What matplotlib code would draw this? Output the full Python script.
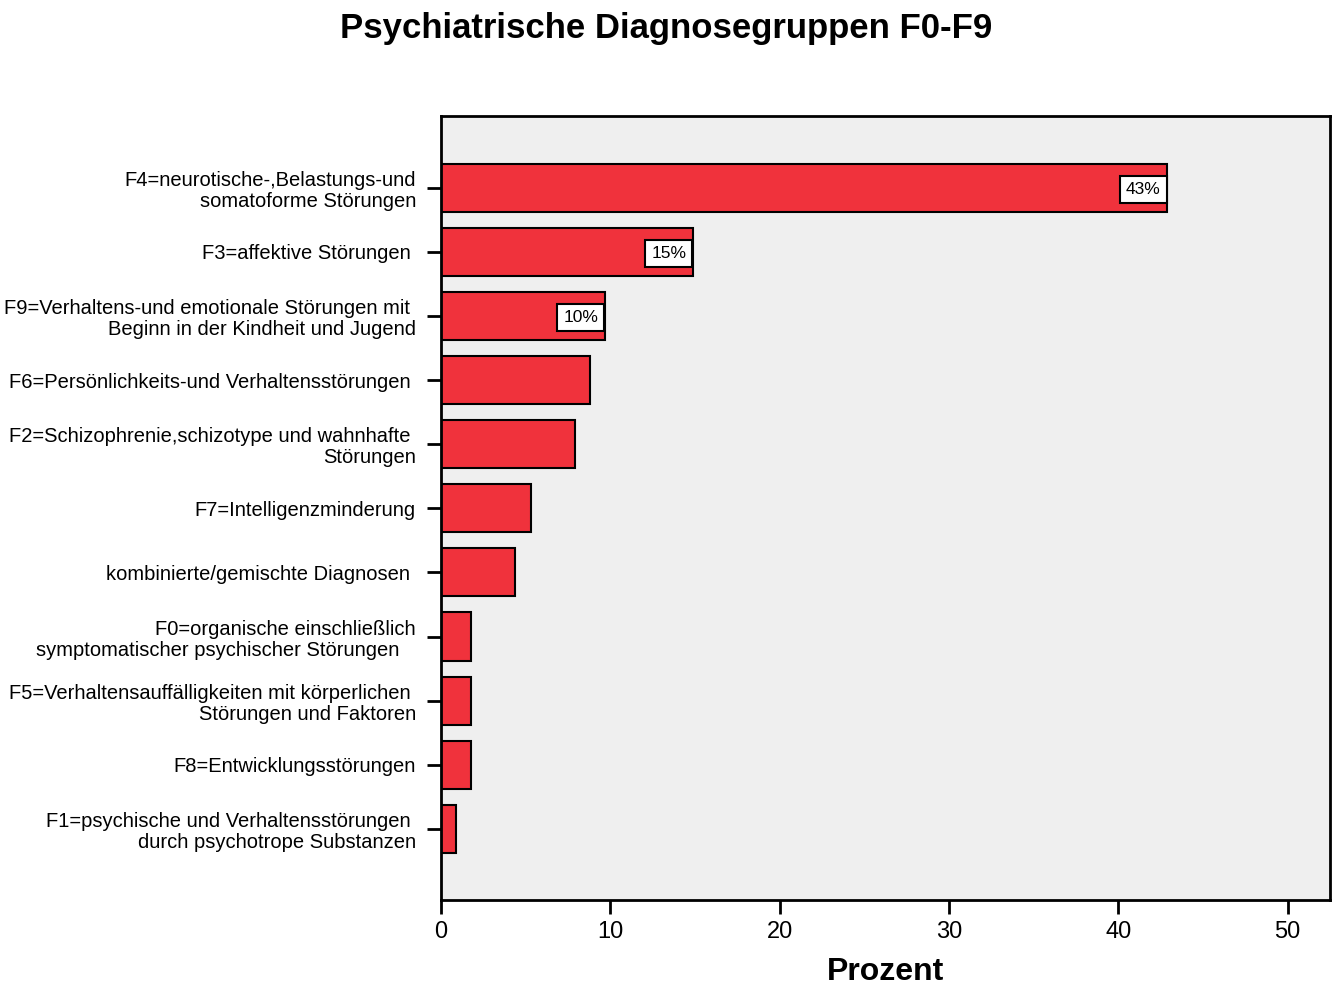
import matplotlib
matplotlib.use("Agg")
import matplotlib.pyplot as plt
import numpy as np

plt.rcParams['font.family'] = ['Liberation Sans', 'DejaVu Sans']

labels = [
    "F4=neurotische-,Belastungs-und\nsomatoforme Störungen",
    "F3=affektive Störungen ",
    "F9=Verhaltens-und emotionale Störungen mit \nBeginn in der Kindheit und Jugend",
    "F6=Persönlichkeits-und Verhaltensstörungen ",
    "F2=Schizophrenie,schizotype und wahnhafte \nStörungen",
    "F7=Intelligenzminderung",
    "kombinierte/gemischte Diagnosen ",
    "F0=organische einschließlich\nsymptomatischer psychischer Störungen   ",
    "F5=Verhaltensauffälligkeiten mit körperlichen \nStörungen und Faktoren",
    "F8=Entwicklungsstörungen",
    "F1=psychische und Verhaltensstörungen \ndurch psychotrope Substanzen",
]
prozent = [42.9, 14.9, 9.7, 8.8, 7.9, 5.3, 4.4, 1.8, 1.8, 1.8, 0.9]
bar_text = ["43%", "15%", "10%"]

fig = plt.figure(figsize=(13.33, 9.85), dpi=100)
ax = fig.add_axes([0.3308, 0.0863, 0.6669, 0.7959])
ax.set_facecolor("#EFEFEF")

y = np.arange(len(labels))
ax.barh(y, prozent, height=0.75, color="#F0323C", edgecolor="black", linewidth=1.5)

for i, t in enumerate(bar_text):
    ax.annotate(t, xy=(prozent[i], y[i]), xytext=(-5, -1), textcoords="offset points",
                ha="right", va="center", fontsize=12.5,
                bbox=dict(boxstyle="square,pad=0.35", facecolor="white", edgecolor="black", linewidth=1.5))

ax.set_yticks(y)
ax.set_yticklabels(labels, fontsize=14.5, multialignment="right", linespacing=1.15)
ax.set_ylim(len(labels) - 1 + 1.11, -1.12)
ax.set_xlim(0, 52.5)
ax.set_xticks([0, 10, 20, 30, 40, 50])
ax.tick_params(axis="x", labelsize=17, length=10, width=2, direction="out", pad=5)
ax.tick_params(axis="y", length=10, width=2, direction="out", pad=8)
for s in ax.spines.values():
    s.set_linewidth(2)

ax.set_xlabel("Prozent", fontsize=23, fontweight="bold", labelpad=10)
fig.suptitle("Psychiatrische Diagnosegruppen F0-F9", fontsize=25, fontweight="bold", y=0.988)

fig.savefig("out.png", dpi=100)
